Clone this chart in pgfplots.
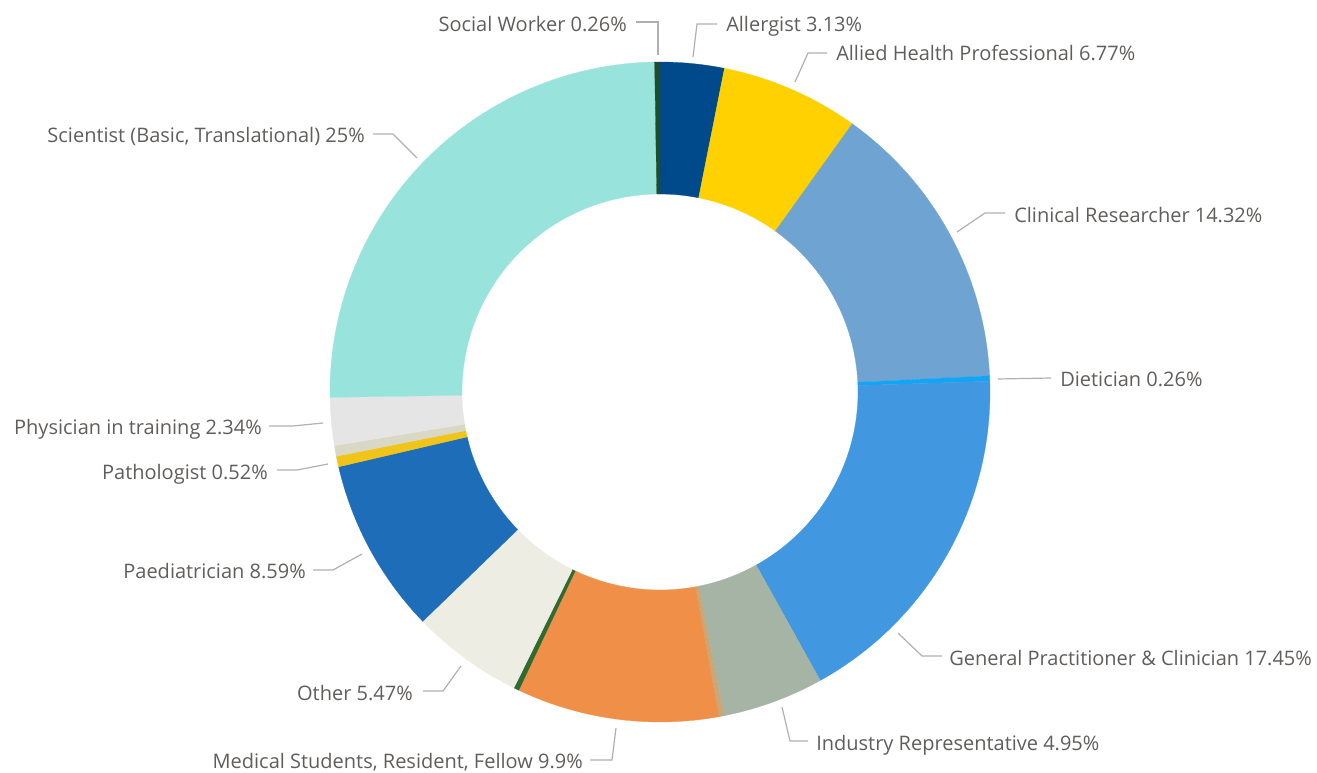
\documentclass[border=0pt]{standalone}
\usepackage{pgfplots}
\pgfplotsset{compat=1.18}
\usepackage{fontspec}
\setmainfont{Open Sans}
\definecolor{cAllergist}{HTML}{004A8C}
\definecolor{cAllied}{HTML}{FFD100}
\definecolor{cClinical}{HTML}{6FA4D2}
\definecolor{cDietician}{HTML}{12A4F5}
\definecolor{cGP}{HTML}{4197E0}
\definecolor{cIndustry}{HTML}{A6B4A6}
\definecolor{cXone}{HTML}{C8A878}
\definecolor{cMedical}{HTML}{F08F47}
\definecolor{cXtwo}{HTML}{2E6B30}
\definecolor{cOther}{HTML}{EDEDE4}
\definecolor{cPaed}{HTML}{1D6DB8}
\definecolor{cPath}{HTML}{F0C419}
\definecolor{cXthree}{HTML}{D8D8C4}
\definecolor{cPhys}{HTML}{E5E5E5}
\definecolor{cSci}{HTML}{98E3DB}
\definecolor{cSocial}{HTML}{1F4D2C}
\definecolor{txt}{HTML}{605E5C}
\definecolor{lead}{HTML}{B0B0B0}
\tikzset{lbl/.style={text=txt,font=\fontsize{15pt}{18pt}\selectfont,inner sep=0pt},
  leader/.style={draw=lead,line width=0.9pt}}
\begin{document}
\begin{tikzpicture}
\begin{axis}[width=987.75pt,height=579.75pt,scale only axis,
  xmin=0,xmax=1317,ymin=0,ymax=773,y dir=reverse,hide axis,clip=false]
\path (axis cs:0,0) rectangle (axis cs:1317,773);
\xdef\cum{0}
\foreach \v/\c in {3.13/cAllergist,6.77/cAllied,14.32/cClinical,0.26/cDietician,
  17.45/cGP,4.95/cIndustry,0.26/cXone,9.9/cMedical,0.26/cXtwo,5.47/cOther,
  8.59/cPaed,0.52/cPath,0.52/cXthree,2.34/cPhys,25/cSci,0.26/cSocial}{
  \pgfmathsetmacro\a{90-3.6*\cum}
  \pgfmathsetmacro\b{90-3.6*(\cum+\v)}
  \pgfmathsetmacro\bb{\b+180}
  \edef\tmp{\noexpand\fill[\c,draw=\c,line width=0.2pt] (axis cs:660,392) ++(\a:247.5pt)
    arc[start angle=\a,end angle=\b,radius=247.5pt] -- ++(\bb:99pt)
    arc[start angle=\b,end angle=\a,radius=148.5pt] -- cycle;}
  \tmp
  \pgfmathsetmacro\newcum{\cum+\v}\global\let\cum\newcum
}
% leader lines
\draw[leader] (axis cs:636,22) -- (axis cs:658,22) -- (axis cs:658,55);
\draw[leader] (axis cs:693,57) -- (axis cs:697,24) -- (axis cs:717,24);
\draw[leader] (axis cs:795,82) -- (axis cs:808,53) -- (axis cs:827,53);
\draw[leader] (axis cs:957,232) -- (axis cs:985,213) -- (axis cs:1005,213);
\draw[leader] (axis cs:998,379) -- (axis cs:1051,378);
\draw[leader] (axis cs:898,633) -- (axis cs:922,656) -- (axis cs:942,656);
\draw[leader] (axis cs:782,707) -- (axis cs:790,741) -- (axis cs:808,741);
\draw[leader] (axis cs:616,728) -- (axis cs:612,760) -- (axis cs:590,760);
\draw[leader] (axis cs:461,666) -- (axis cs:443,691) -- (axis cs:423,691);
\draw[leader] (axis cs:362,554) -- (axis cs:333,570) -- (axis cs:313,570);
\draw[leader] (axis cs:328,464) -- (axis cs:297,470) -- (axis cs:277,470);
\draw[leader] (axis cs:323,423) -- (axis cs:293,426) -- (axis cs:269,426);
\draw[leader] (axis cs:417,158) -- (axis cs:393,134) -- (axis cs:373,134);
% labels
\node[lbl,anchor=base east] at (axis cs:627,31.5) {Social Worker 0.26\%};
\node[lbl,anchor=base west] at (axis cs:726,32) {Allergist 3.13\%};
\node[lbl,anchor=base west] at (axis cs:836,61) {Allied Health Professional 6.77\%};
\node[lbl,anchor=base west] at (axis cs:1014,223) {Clinical Researcher 14.32\%};
\node[lbl,anchor=base west] at (axis cs:1060,386.5) {Dietician 0.26\%};
\node[lbl,anchor=base west] at (axis cs:949,665) {General Practitioner \& Clinician 17.45\%};
\node[lbl,anchor=base west] at (axis cs:816,750) {Industry Representative 4.95\%};
\node[lbl,anchor=base east] at (axis cs:583,768) {Medical Students, Resident, Fellow 9.9\%};
\node[lbl,anchor=base east] at (axis cs:413,700) {Other 5.47\%};
\node[lbl,anchor=base east] at (axis cs:306,578) {Paediatrician 8.59\%};
\node[lbl,anchor=base east] at (axis cs:268,479) {Pathologist 0.52\%};
\node[lbl,anchor=base east] at (axis cs:262,435) {Physician in training 2.34\%};
\node[lbl,anchor=base east] at (axis cs:365,143) {Scientist (Basic, Translational) 25\%};
\end{axis}
\end{tikzpicture}
\end{document}
